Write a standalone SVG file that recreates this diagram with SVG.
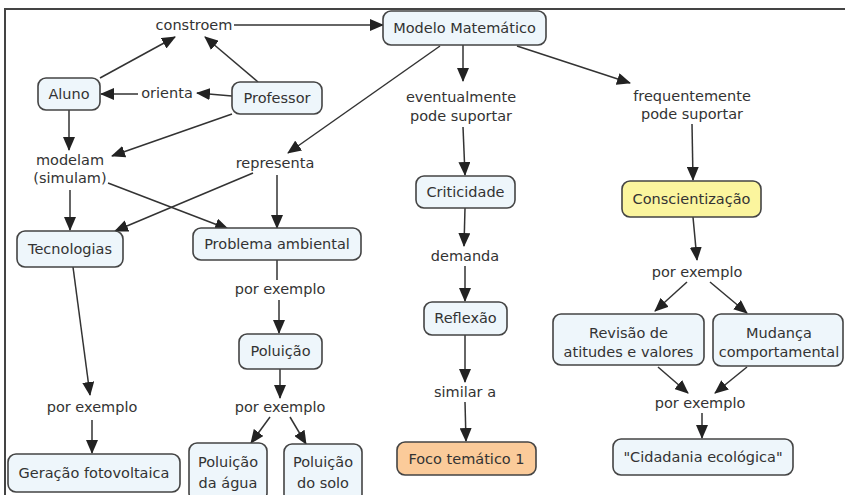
<svg xmlns="http://www.w3.org/2000/svg" width="845" height="495" viewBox="0 0 845 495">
<defs>
<marker id="arr" markerUnits="userSpaceOnUse" markerWidth="14" markerHeight="12" refX="13" refY="6" orient="auto">
<path d="M0,0 L14,6 L0,12 z" fill="#222"/>
</marker>
<style>
.n rect{fill:#eef6fb;stroke:#444;stroke-width:1.6}
.n text,.l{font-family:"DejaVu Sans",Verdana,sans-serif;font-size:14.5px;fill:#333;text-anchor:middle}
#connectors path{fill:none;stroke:#333;stroke-width:1.5}
#connectors path.a{marker-end:url(#arr)}
.frame{fill:none;stroke:#444;stroke-width:2}
</style>
</defs>
<rect width="845" height="495" fill="#fff"/>
<path class="frame" d="M5,495 L5,9 L845,9"/>
<g id="connectors">
<path class="a" d="M234,25 L383,25"/>
<path class="a" d="M100,78 L175,37"/>
<path class="a" d="M258,82 L205,37"/>
<path class="a" d="M232,96 L197,93"/>
<path class="a" d="M138,94 L101,94"/>
<path class="a" d="M232,114 L112,156"/>
<path class="a" d="M69,110 L69,150"/>
<path class="a" d="M70,190 L70,230"/>
<path class="a" d="M108,183 L228,229"/>
<path class="a" d="M440,46 L288,153"/>
<path class="a" d="M253,173 L115,231"/>
<path class="a" d="M277,175 L277,228"/>
<path d="M277,260 L277,280"/>
<path class="a" d="M279,300 L279,333"/>
<path class="a" d="M280,369 L280,398"/>
<path class="a" d="M270,417 L251,443"/>
<path class="a" d="M290,417 L306,444"/>
<path class="a" d="M73,267 L90,395"/>
<path class="a" d="M92,420 L92,453"/>
<path class="a" d="M463,45 L463,81"/>
<path class="a" d="M463,127 L465,175"/>
<path class="a" d="M465,208 L464,246"/>
<path class="a" d="M465,266 L465,301"/>
<path class="a" d="M465,335 L465,382"/>
<path class="a" d="M465,402 L466,441"/>
<path class="a" d="M517,46 L630,83"/>
<path class="a" d="M692,124 L693,180"/>
<path class="a" d="M693,217 L697,260"/>
<path class="a" d="M687,282 L655,311"/>
<path class="a" d="M710,282 L747,313"/>
<path class="a" d="M658,367 L688,393"/>
<path class="a" d="M747,367 L715,393"/>
<path class="a" d="M702,413 L702,438"/>
</g>
<g id="labels">
<text class="l" x="194" y="30">constroem</text>
<text class="l" x="167" y="98">orienta</text>
<text class="l" x="70" y="165">modelam</text>
<text class="l" x="70" y="183">(simulam)</text>
<text class="l" x="275" y="168">representa</text>
<text class="l" x="461" y="102">eventualmente</text>
<text class="l" x="461" y="121">pode suportar</text>
<text class="l" x="692" y="101">frequentemente</text>
<text class="l" x="692" y="119">pode suportar</text>
<text class="l" x="465" y="261">demanda</text>
<text class="l" x="465" y="397">similar a</text>
<text class="l" x="92" y="412">por exemplo</text>
<text class="l" x="280" y="294">por exemplo</text>
<text class="l" x="280" y="412">por exemplo</text>
<text class="l" x="697" y="277">por exemplo</text>
<text class="l" x="700" y="408">por exemplo</text>
</g>
<g id="modelo" class="n"><rect x="383" y="11" width="163" height="34" rx="8"/><text x="464.5" y="33">Modelo Matemático</text></g>
<g id="aluno" class="n"><rect x="38" y="78" width="62" height="32" rx="8"/><text x="69" y="99">Aluno</text></g>
<g id="professor" class="n"><rect x="232" y="82" width="90" height="32" rx="8"/><text x="277" y="103">Professor</text></g>
<g id="tecnologias" class="n"><rect x="17" y="231" width="106" height="36" rx="8"/><text x="70" y="254">Tecnologias</text></g>
<g id="problema" class="n"><rect x="193" y="228" width="168" height="32" rx="8"/><text x="277" y="249">Problema ambiental</text></g>
<g id="poluicao" class="n"><rect x="239" y="334" width="83" height="35" rx="8"/><text x="280.5" y="356">Poluição</text></g>
<g id="agua" class="n"><rect x="189" y="443" width="78" height="58" rx="8"/><text x="228" y="467">Poluição</text><text x="228" y="488">da água</text></g>
<g id="solo" class="n"><rect x="284" y="444" width="78" height="58" rx="8"/><text x="323" y="467">Poluição</text><text x="323" y="488">do solo</text></g>
<g id="geracao" class="n"><rect x="8" y="454" width="172" height="38" rx="8"/><text x="94" y="478">Geração fotovoltaica</text></g>
<g id="criticidade" class="n"><rect x="416" y="176" width="99" height="32" rx="8"/><text x="465.5" y="197">Criticidade</text></g>
<g id="reflexao" class="n"><rect x="424" y="302" width="83" height="33" rx="8"/><text x="465.5" y="323">Reflexão</text></g>
<g id="foco" class="n"><rect x="397" y="442" width="139" height="33" rx="8" style="fill:#fbcb9a"/><text x="466.5" y="464">Foco temático 1</text></g>
<g id="conscientizacao" class="n"><rect x="622" y="181" width="139" height="36" rx="8" style="fill:#fbf59e"/><text x="691.5" y="204">Conscientização</text></g>
<g id="revisao" class="n"><rect x="553" y="314" width="151" height="51" rx="8"/><text x="628.5" y="338">Revisão de</text><text x="628.5" y="357">atitudes e valores</text></g>
<g id="mudanca" class="n"><rect x="713" y="314" width="130" height="52" rx="8"/><text x="779" y="338">Mudança</text><text x="779" y="357">comportamental</text></g>
<g id="cidadania" class="n"><rect x="613" y="439" width="180" height="36" rx="8"/><text x="703" y="462">"Cidadania ecológica"</text></g>
</svg>
